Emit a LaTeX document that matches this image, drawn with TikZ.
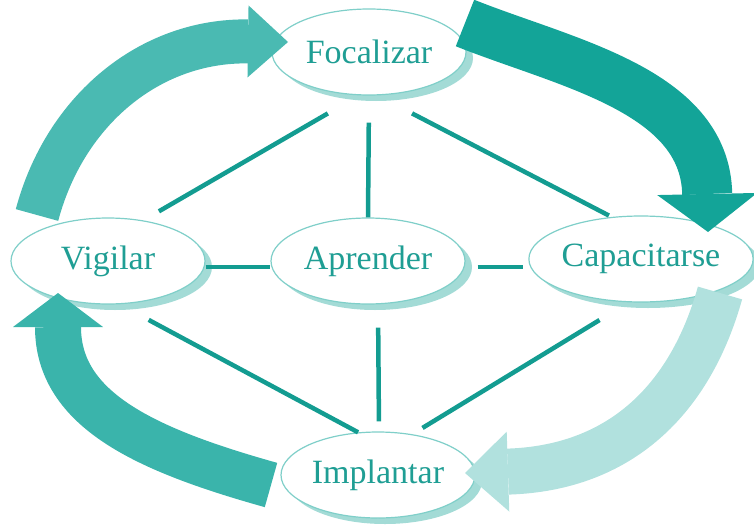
\documentclass[tikz,border=0pt]{standalone}
\usepackage{fontspec}
\setmainfont{Liberation Serif}
\usetikzlibrary{positioning,arrows.meta,shapes.geometric,shadows}
\definecolor{tealline}{HTML}{139C91}
\definecolor{tealtext}{HTML}{1F9E94}
\definecolor{tealedge}{HTML}{7FCFC9}
\definecolor{tealshade}{HTML}{A3DBD6}
\definecolor{flowA}{HTML}{4ABAB2}
\definecolor{flowB}{HTML}{13A498}
\definecolor{flowC}{HTML}{B1E1DE}
\definecolor{flowD}{HTML}{3AB4AB}

\begin{document}
\begin{tikzpicture}[x=1pt, y=-1pt,
  stage/.style={ellipse, draw=tealedge, line width=1.2pt, fill=white,
                minimum width=194pt, minimum height=86pt, inner sep=0pt,
                text=tealtext, font=\fontsize{34}{36}\selectfont,
                general shadow={draw=none, fill=tealshade, shadow xshift=7pt, shadow yshift=-6pt}},
  link/.style={draw=tealline, line width=4.5pt},
  flow/.style={line cap=butt}
]
\useasboundingbox (0,0) rectangle (754,530);
\node[stage] (foc) at (369,52) {Focalizar};
\node[stage] (vig) at (108,261) {Vigilar};
\node[stage] (apr) at (368,261) {Aprender};
\node[stage] (cap) at (641,259) {Capacitarse};
\node[stage] (imp) at (378,475) {Implantar};
\draw[link, shorten <=36pt, shorten >=18pt] (foc.257) -- (vig.49);
\draw[link, shorten <=27pt] (foc.south) -- (apr.north);
\draw[link, shorten <=39pt, shorten >=3pt] (foc.281) -- (cap.125);
\draw[link] ([yshift=-6pt]vig.east) -- ([yshift=-6pt]apr.west);
\draw[link, shorten <=12pt, shorten >=5pt] ([yshift=-6pt]apr.east) -- ([yshift=-8pt]cap.west);
\draw[link, shorten <=33pt] (vig.285) -- (imp.115);
\draw[link, shorten <=23pt, shorten >=10pt] ([xshift=10pt]apr.south) -- ([xshift=1pt]imp.north);
\draw[link, shorten <=34pt, shorten >=12pt] (cap.254) -- (imp.50);
\draw[flow, draw=flowA, line width=44pt, -{Triangle[length=40pt,width=72pt,line width=0pt]}]
  ([shift={(-71,-46)}]vig.center) .. controls +(28,-105) and +(-138,-2) .. ([shift={(-81,-10)}]foc.center);
\draw[flow, draw=flowB, line width=50pt, -{Triangle[length=38pt,width=100pt,line width=0pt]}]
  ([shift={(96,-29)}]foc.center) .. controls +(100,40) and +(-3,-142) .. ([shift={(67,-27)}]cap.center);
\draw[flow, draw=flowC, line width=46pt, -{Triangle[length=43pt,width=80pt,line width=0pt]}]
  ([shift={(79,34)}]cap.center) .. controls +(-30,107) and +(155,-5) .. ([shift={(87,-2)}]imp.center);
\draw[flow, draw=flowD, line width=46pt, -{Triangle[length=34pt,width=90pt,line width=0pt]}]
  ([shift={(-107,10)}]imp.center) .. controls +(-125,-35) and +(0,117) .. ([shift={(-50,32)}]vig.center);
\end{tikzpicture}
\end{document}
